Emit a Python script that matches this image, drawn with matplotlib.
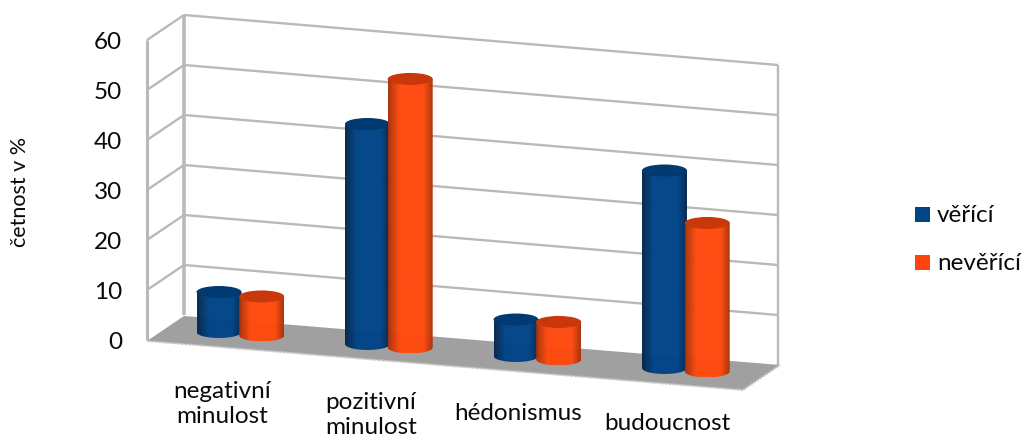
import numpy as np
import matplotlib
matplotlib.use("Agg")
import matplotlib.pyplot as plt
from matplotlib.patches import Ellipse, Polygon, Rectangle, PathPatch
from matplotlib.path import Path
from matplotlib.transforms import Affine2D
from matplotlib.colors import LinearSegmentedColormap

# Data
categories = ["negativní\nminulost", "pozitivní\nminulost", "hédonismus", "budoucnost"]
series_names = ["věřící", "nevěřící"]
veirici = [8, 44, 7.3, 39.5]
neverici = [7.8, 53.7, 7.5, 29.7]
value_ticks = [0, 10, 20, 30, 40, 50, 60]

plt.rcParams["font.family"] = ["Lato", "DejaVu Sans"]
TEXT = "#0a0a0a"
GRID = "#b9b9b9"
FLOOR = "#a0a0a0"

fig = plt.figure(figsize=(10.23, 4.40), dpi=100)
ax = fig.add_axes([0, 0, 1, 1])
ax.set_xlim(0, 1023)
ax.set_ylim(440, 0)
ax.axis("off")

# Oblique projections: each plane maps (position, value) to canvas coordinates
bars_plane = Affine2D.from_values(148.5, 12.0, 0, -5.0, 219, 332)
back_wall = Affine2D.from_values(594, 50, 0, -5.0, 184, 315)
side_wall = Affine2D.from_values(37, -25, 0, -5.0, 147, 340)
floor_plane = Affine2D.from_values(596, 49, 37, -25, 147, 341)


def segment(plane, p, q, **kw):
    pts = plane.transform(np.array([p, q], dtype=float))
    ax.plot(pts[:, 0], pts[:, 1], solid_capstyle="butt", **kw)


# Floor
corners = floor_plane.transform([[0, 0], [1, 0], [1, 1], [0, 1]])
ax.add_patch(Polygon(corners, closed=True, fc=FLOOR, ec="none", zorder=1))
ax.plot(corners[[0, 1, 2], 0], corners[[0, 1, 2], 1], color="#c4c4c4", lw=1.3,
        ls=(0, (1.5, 0.6)), zorder=1.2)

# Walls and gridlines
for v in value_ticks[1:]:
    segment(back_wall, (0, v), (1, v), color=GRID, lw=1.7, zorder=2)
    segment(side_wall, (0, v), (1, v), color=GRID, lw=1.7, zorder=2)
segment(back_wall, (0, 0), (0, 60), color=GRID, lw=2.6, zorder=2)
segment(back_wall, (1, 0), (1, 60), color=GRID, lw=1.7, zorder=2)
segment(side_wall, (0, 0), (0, 60), color=GRID, lw=2.2, zorder=2)


def shaded_cmap(edge, mid):
    return LinearSegmentedColormap.from_list(
        "cyl", [(0, edge), (0.25, mid), (0.5, mid), (0.8, mid), (1, edge)])


def cylinder(pos, value, edge, mid, cap, z):
    half_w, half_h = 22.5, 6.0
    (bx, by), (tx, ty) = bars_plane.transform([[pos, 0], [pos, value]])
    shade = np.linspace(0, 1, 128).reshape(1, -1)
    im = ax.imshow(shade, cmap=shaded_cmap(edge, mid), aspect="auto", alpha=0.98,
                   extent=(bx - half_w, bx + half_w, by + half_h, ty), zorder=z,
                   interpolation="bilinear")
    theta = np.linspace(np.pi, 0, 40)
    lower = np.column_stack([bx + half_w * np.cos(theta), by + half_h * np.sin(theta)])
    verts = np.vstack([[[tx - half_w, ty]], lower, [[tx + half_w, ty]], [[tx - half_w, ty]]])
    body = PathPatch(Path(verts), transform=ax.transData, fc="none", ec="none")
    ax.add_patch(body)
    im.set_clip_path(body)
    ax.add_patch(Ellipse((tx, ty), 2 * half_w, 2 * half_h, fc=cap, ec="none", zorder=z + 0.01))


ax.set_xlim(0, 1023)
ax.set_ylim(440, 0)

SERIES_OFFSET = 0.2875
for i, (a, b) in enumerate(zip(veirici, neverici)):
    cylinder(i, a, "#06264a", "#004488", "#003a70", 3 + i * 0.2)
    cylinder(i + SERIES_OFFSET, b, "#a83208", "#ff4a0e", "#c9380a", 3.1 + i * 0.2)

# Value axis labels
for v in value_ticks:
    ax.text(122, 342.5 - 5 * v, str(v), ha="right", va="center", fontsize=17.5, color=TEXT)
ax.text(20, 192, "četnost v %", rotation=90, ha="center", va="center", fontsize=15.5, color=TEXT)

# Category labels
label_pos = [(222, 404), (371, 415), (518, 413), (667, 424)]
for text, (x, y) in zip(categories, label_pos):
    ax.text(x, y, text, ha="center", va="center", fontsize=17.5, color=TEXT, linespacing=1.2)

# Legend
for name, color, y in zip(series_names, ["#004586", "#ff420e"], [214.5, 262.5]):
    ax.add_patch(Rectangle((915, y - 7.5), 15, 15, fc=color, ec="none"))
    ax.text(937, y + 1, name, ha="left", va="center", fontsize=17.5, color=TEXT)

fig.savefig("out.png", dpi=100)
